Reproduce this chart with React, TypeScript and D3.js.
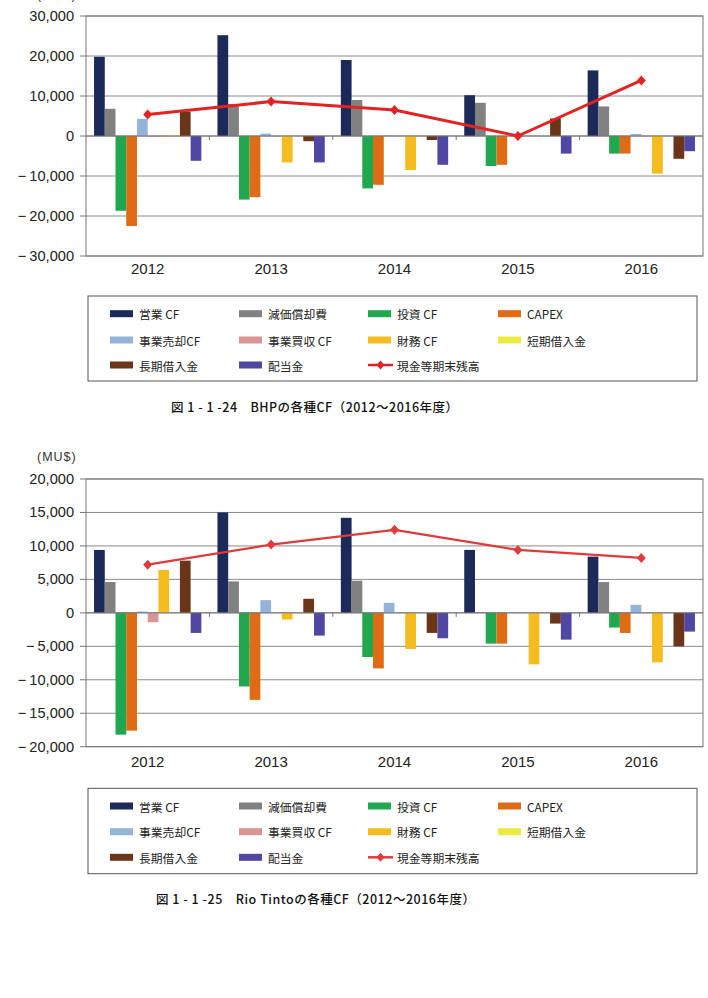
import React from 'react';
import * as d3 from 'd3';

const years = ['2012', '2013', '2014', '2015', '2016'];
const seriesNames = ['営業 CF', '減価償却費', '投資 CF', 'CAPEX', '事業売却CF', '事業買収 CF', '財務 CF', '短期借入金', '長期借入金', '配当金'];
const lineName = '現金等期末残高';
const seriesColors = ['#1b2a59', '#818181', '#21a84e', '#e06b15', '#93b3d9', '#d99596', '#f4bc1e', '#ece944', '#6a3519', '#4f47a1'];

// BHP
const bhpOperatingCF = [19800, 25200, 19000, 10200, 16400];
const bhpDepreciation = [6800, 8000, 9000, 8300, 7400];
const bhpInvestingCF = [-18700, -15900, -13100, -7500, -4400];
const bhpCapex = [-22500, -15300, -12200, -7200, -4400];
const bhpDivestCF = [4300, 600, 100, 0, 500];
const bhpAcquisitionCF = [-200, -100, 0, 0, -100];
const bhpFinancingCF = [-200, -6600, -8500, 100, -9400];
const bhpShortDebt = [200, 0, 0, 0, 0];
const bhpLongDebt = [6100, -1300, -1000, 4400, -5700];
const bhpDividends = [-6200, -6600, -7200, -4400, -3800];
const bhpCash = [5400, 8600, 6500, 0, 13900];
const bhpTicks = [30000, 20000, 10000, 0, -10000, -20000, -30000];

// Rio Tinto
const rioOperatingCF = [9400, 15000, 14200, 9400, 8400];
const rioDepreciation = [4600, 4700, 4800, 100, 4600];
const rioInvestingCF = [-18200, -11000, -6600, -4600, -2200];
const rioCapex = [-17600, -13000, -8300, -4600, -3000];
const rioDivestCF = [200, 1900, 1500, 0, 1200];
const rioAcquisitionCF = [-1400, 0, 0, 0, 0];
const rioFinancingCF = [6400, -1000, -5400, -7700, -7400];
const rioShortDebt = [0, 0, 0, 0, 0];
const rioLongDebt = [7800, 2100, -3000, -1600, -5000];
const rioDividends = [-3000, -3400, -3800, -4000, -2800];
const rioCash = [7200, 10200, 12400, 9400, 8200];
const rioTicks = [20000, 15000, 10000, 5000, 0, -5000, -10000, -15000, -20000];

const bhpSeries = [bhpOperatingCF, bhpDepreciation, bhpInvestingCF, bhpCapex, bhpDivestCF, bhpAcquisitionCF, bhpFinancingCF, bhpShortDebt, bhpLongDebt, bhpDividends];
const rioSeries = [rioOperatingCF, rioDepreciation, rioInvestingCF, rioCapex, rioDivestCF, rioAcquisitionCF, rioFinancingCF, rioShortDebt, rioLongDebt, rioDividends];

const NUM_FONT = '"Liberation Sans", Arial, sans-serif';
const JP_FONT = '"Noto Sans CJK JP", "Noto Sans", sans-serif';

type ChartProps = {
  top: number; bottom: number; ticks: number[]; series: number[][]; cash: number[];
  unitY: number; xLabelY: number; legendTop: number; legendBottom: number; legendRows: number[];
  caption: string; captionY: number; captionX0: number; captionX1: number; lineW: number; lineColor: string;
};

function Chart(p: ChartProps) {
  const left = 86, right = 703;
  const x = d3.scaleBand<string>().domain(years).range([left, right]).padding(0);
  const inner = d3.scaleBand<string>().domain(seriesNames).range([0, x.bandwidth()]).paddingInner(0).paddingOuter(0.75);
  const y = d3.scaleLinear().domain([d3.min(p.ticks)!, d3.max(p.ticks)!]).range([p.bottom, p.top]);
  const y0 = y(0);
  const line = d3.line<number>().x((_, i) => x(years[i])! + x.bandwidth() / 2).y(v => y(v));
  const cols = [110, 239, 368, 498];
  const legendItems = [...seriesNames.map((n, i) => ({ n, c: seriesColors[i], line: false })), { n: lineName, c: p.lineColor, line: true }];
  return (
    <g>
      <text x={37} y={p.unitY} fontFamily={NUM_FONT} fontSize={12.5} letterSpacing={1} fill="#333" dominantBaseline="central">(MU$)</text>
      {p.ticks.map(t => (
        <g key={t}>
          <line x1={left} x2={right} y1={y(t)} y2={y(t)} stroke="#8a8a8a" strokeWidth={1} />
          <line x1={left - 6} x2={left} y1={y(t)} y2={y(t)} stroke="#777" strokeWidth={1} />
          <text x={74} y={y(t)} textAnchor="end" dominantBaseline="central" fontFamily={NUM_FONT} fontSize={14.6} fill="#222">
            {t < 0 && <tspan>{'\u2212'}</tspan>}
            <tspan dx={t < 0 ? 3 : 0}>{d3.format(',')(Math.abs(t))}</tspan>
          </text>
        </g>
      ))}
      <rect x={left} y={p.top} width={right - left} height={p.bottom - p.top} fill="none" stroke="#777" strokeWidth={1} />
      {years.map((yr, i) => (
        <g key={yr}>
          {i > 0 && <line x1={x(yr)!} x2={x(yr)!} y1={y0} y2={y0 + 4} stroke="#777" />}
          <text x={x(yr)! + x.bandwidth() / 2} y={p.xLabelY} textAnchor="middle" dominantBaseline="central" fontFamily={NUM_FONT} fontSize={15} fill="#222">{yr}</text>
        </g>
      ))}
      {p.series.map((vals, si) => vals.map((v, i) => (
        <rect key={si + '-' + i} x={x(years[i])! + inner(seriesNames[si])!} width={inner.bandwidth()}
          y={Math.min(y(v), y0)} height={Math.abs(y(v) - y0)} fill={seriesColors[si]} />
      )))}
      <line x1={left} x2={right} y1={y0} y2={y0} stroke="#777" strokeWidth={1} />
      <path d={line(p.cash)!} fill="none" stroke={p.lineColor} strokeWidth={p.lineW} strokeLinejoin="round" />
      {p.cash.map((v, i) => {
        const cx = x(years[i])! + x.bandwidth() / 2, cy = y(v);
        return <path key={i} d={`M${cx},${cy - 5}L${cx + 4.5},${cy}L${cx},${cy + 5}L${cx - 4.5},${cy}Z`} fill={p.lineColor} />;
      })}
      <rect x={88} y={p.legendTop} width={609} height={p.legendBottom - p.legendTop} fill="#fff" stroke="#555" strokeWidth={1} />
      {legendItems.map((it, k) => {
        const cx = cols[k % 4], cy = p.legendRows[Math.floor(k / 4)];
        return (
          <g key={it.n}>
            {it.line ? (
              <g>
                <line x1={cx} x2={cx + 25} y1={cy} y2={cy} stroke={it.c} strokeWidth={2.5} />
                <path d={`M${cx + 12.5},${cy - 4.5}L${cx + 16.5},${cy}L${cx + 12.5},${cy + 4.5}L${cx + 8.5},${cy}Z`} fill={it.c} />
              </g>
            ) : (
              <rect x={cx} y={cy - 3.5} width={23} height={7} fill={it.c} />
            )}
            <text x={cx + 29} y={cy} dominantBaseline="central" fontFamily={JP_FONT} fontSize={11.8} fill="#222">{it.n}</text>
          </g>
        );
      })}
      <text x={p.captionX0} y={p.captionY} dominantBaseline="central" fontFamily={JP_FONT} fontWeight={500} fontSize={12.5}
        textLength={p.captionX1 - p.captionX0} lengthAdjust="spacing" fill="#111">{p.caption}</text>
    </g>
  );
}

export default function App() {
  return (
    <svg width={708} height={998} style={{ position: 'absolute', left: 0, top: 0, background: '#fff' }}>
      <rect width={708} height={998} fill="#fff" />
      <Chart top={16} bottom={256} ticks={bhpTicks} series={bhpSeries} cash={bhpCash} unitY={-5} xLabelY={268}
        legendTop={296} legendBottom={381} legendRows={[313.7, 340, 365]}
        caption="図 1 - 1 -24　BHPの各種CF（2012～2016年度）" captionY={406.7} captionX0={171} captionX1={458}
        lineW={3} lineColor="#e32222" />
      <Chart top={479} bottom={746.7} ticks={rioTicks} series={rioSeries} cash={rioCash} unitY={456.7} xLabelY={761.5}
        legendTop={788.3} legendBottom={873.7} legendRows={[806, 831.7, 857.3]}
        caption="図 1 - 1 -25　Rio Tintoの各種CF（2012～2016年度）" captionY={898.3} captionX0={156} captionX1={475}
        lineW={2.2} lineColor="#e03a3a" />
    </svg>
  );
}
